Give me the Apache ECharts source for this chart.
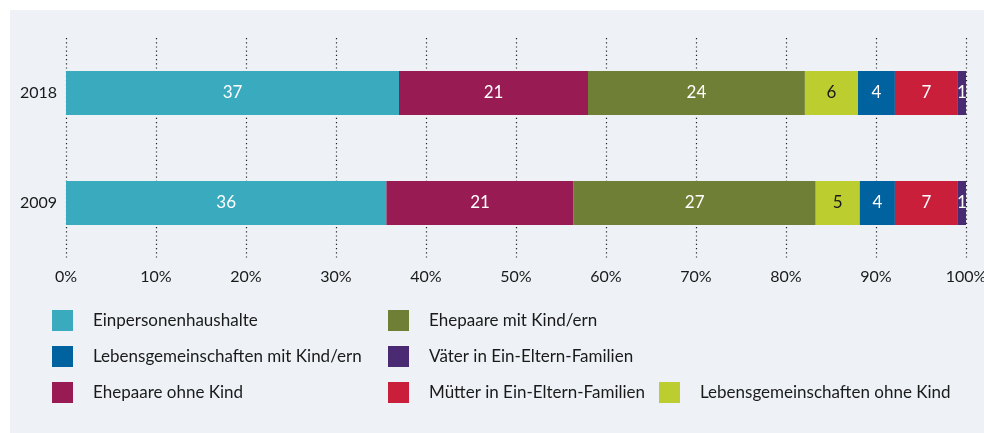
<!DOCTYPE html>
<head>
    <meta charset="utf-8">
    <title>Haushalte</title>
    <style>
        html, body { margin: 0; padding: 0; background: #ffffff; }
    </style>
</head>
<body>
<div id="main" style="width:984px;height:433px"></div>
<script src="https://cdn.jsdelivr.net/npm/echarts@6/dist/echarts.min.js"></script>
<script type="text/javascript">
// Daten (Anteile in %)
var years = ['2009', '2018'];
var seriesNames = [
    'Einpersonenhaushalte',
    'Ehepaare ohne Kind',
    'Ehepaare mit Kind/ern',
    'Lebensgemeinschaften ohne Kind',
    'Lebensgemeinschaften mit Kind/ern',
    'Mütter in Ein-Eltern-Familien',
    'Väter in Ein-Eltern-Familien'
];
var einpersonen = [35.6, 37.0];
var ehepaareOhne = [20.8, 21.0];
var ehepaareMit = [26.9, 24.1];
var lgOhne = [4.9, 5.9];
var lgMit = [3.9, 4.1];
var muetter = [7.0, 7.0];
var vaeter = [0.9, 0.9];
var xTicks = [0, 10, 20, 30, 40, 50, 60, 70, 80, 90, 100];

var colors = ['#3aaabf', '#981b54', '#707f36', '#bbcd2f', '#00629f', '#c91f3a', '#4a2a72'];
var values = [einpersonen, ehepaareOhne, ehepaareMit, lgOhne, lgMit, muetter, vaeter];
var font = 'Lato, "Noto Sans", sans-serif';

var myChart = echarts.init(document.getElementById('main'));

var series = [];
for (var i = 0; i < seriesNames.length; i++) {
    series.push({
        name: seriesNames[i],
        type: 'bar',
        stack: 'gesamt',
        barWidth: 44,
        data: values[i],
        itemStyle: { color: colors[i] },
        label: {
            show: true,
            position: 'inside',
            color: i === 3 ? '#1a1a1a' : '#ffffff',
            fontFamily: font,
            fontSize: 17,
            formatter: function (p) { return Math.round(p.value); }
        }
    });
}

function legendBox(left, top, data) {
    return {
        left: left,
        top: top,
        orient: 'vertical',
        padding: 0,
        itemGap: 15,
        itemWidth: 21,
        itemHeight: 21,
        icon: 'rect',
        selectedMode: false,
        data: data,
        textStyle: {
            fontFamily: font,
            fontSize: 17,
            color: '#1a1a1a',
            padding: [0, 0, 0, 15]
        }
    };
}

var option = {
    backgroundColor: '#ffffff',
    animation: false,
    graphic: [{
        type: 'rect',
        z: -10,
        shape: { x: 10, y: 10, width: 974, height: 423 },
        style: { fill: '#eef2f6' }
    }],
    grid: { left: 66, right: 18, top: 38, bottom: 175, outerBoundsMode: 'none' },
    legend: [
        legendBox(52, 310, ['Einpersonenhaushalte', 'Lebensgemeinschaften mit Kind/ern', 'Ehepaare ohne Kind']),
        legendBox(388, 310, ['Ehepaare mit Kind/ern', 'Väter in Ein-Eltern-Familien', 'Mütter in Ein-Eltern-Familien']),
        legendBox(659, 382, ['Lebensgemeinschaften ohne Kind'])
    ],
    xAxis: {
        type: 'value',
        min: xTicks[0],
        max: xTicks[xTicks.length - 1],
        interval: 10,
        axisLine: { show: false },
        axisTick: { show: false },
        axisLabel: {
            margin: 11,
            fontFamily: font,
            fontSize: 16,
            color: '#1a1a1a',
            formatter: '{value}%'
        },
        splitLine: {
            show: true,
            lineStyle: { color: '#222222', width: 1.2, type: [1.2, 3] }
        }
    },
    yAxis: {
        type: 'category',
        data: years,
        axisLine: { show: false },
        axisTick: { show: false },
        axisLabel: {
            margin: 9,
            fontFamily: font,
            fontSize: 16,
            color: '#1a1a1a'
        }
    },
    series: series
};

myChart.setOption(option);
</script>
</body>
